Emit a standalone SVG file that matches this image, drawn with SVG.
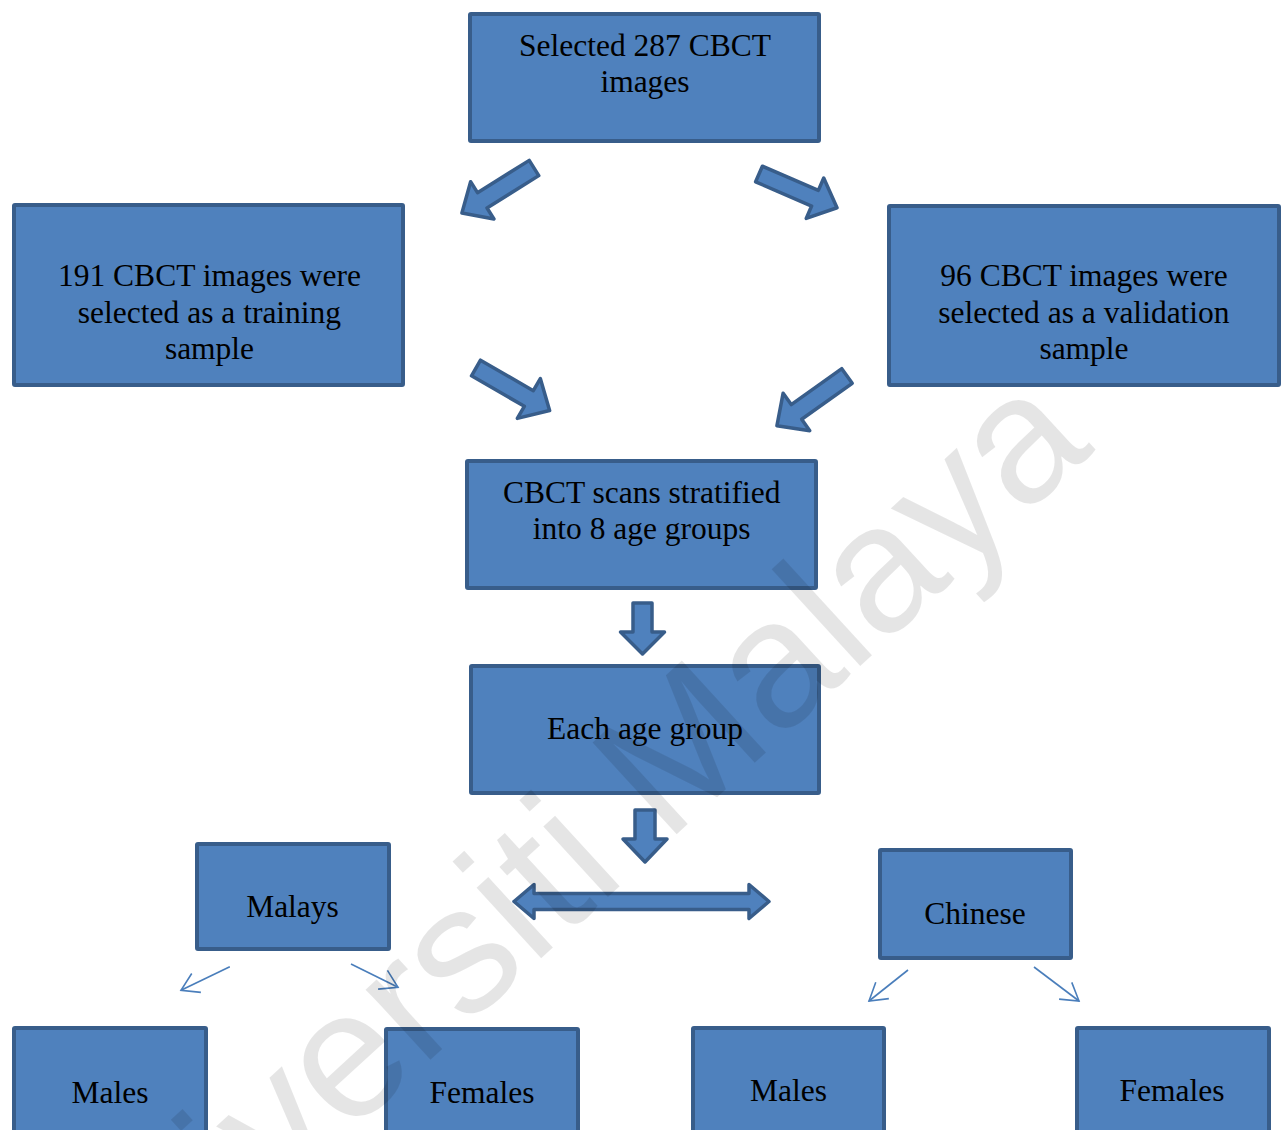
<svg xmlns="http://www.w3.org/2000/svg" width="1288" height="1130" viewBox="0 0 1288 1130">
  <style>
    .box { fill: #4f81bd; stroke: #385d8a; stroke-width: 4; }
    .lbl { font-family: "Liberation Serif", "Times New Roman", serif; font-size: 31.5px; fill: #000; text-anchor: middle; }
    .blk { fill: #4f81bd; stroke: #385d8a; stroke-width: 3.5; stroke-linejoin: round; }
    .thin { fill: none; stroke: #4a7ebb; stroke-width: 1.6; marker-end: url(#oa); }
    .wm { font-family: "Liberation Sans", Arial, sans-serif; font-size: 181px; fill: #000; fill-opacity: 0.1; }
  </style>
  <defs>
    <marker id="oa" markerUnits="userSpaceOnUse" markerWidth="20" markerHeight="26" viewBox="-1 -13 20 26" refX="17" refY="0" orient="auto" overflow="visible">
      <path d="M0,-10.5 L17,0 L0,10.5" fill="none" stroke="#4a7ebb" stroke-width="1.6"/>
    </marker>
  </defs>
  <rect width="1288" height="1130" fill="#fff"/>

  <g id="connectors">
    <polygon class="blk" transform="translate(534,168) rotate(148)" points="0,-9 61,-9 61,-22 85,0 61,22 61,9 0,9"/>
    <polygon class="blk" transform="translate(759,174) rotate(23.4)" points="0,-8.5 61,-8.5 61,-22 85,0 61,22 61,8.5 0,8.5"/>
    <polygon class="blk" transform="translate(476,368) rotate(30)" points="0,-9 61,-9 61,-23 85,0 61,23 61,9 0,9"/>
    <polygon class="blk" transform="translate(847,376) rotate(144.6)" points="0,-9 62,-9 62,-23 86,0 62,23 62,9 0,9"/>
    <polygon class="blk" transform="translate(642.5,603) rotate(90)" points="0,-9.5 29,-9.5 29,-22 51,0 29,22 29,9.5 0,9.5"/>
    <polygon class="blk" transform="translate(645,810) rotate(90)" points="0,-10 29,-10 29,-22 52,0 29,22 29,10 0,10"/>
    <polygon class="blk" points="514,901.5 534,884.5 534,893.5 749,893.5 749,884.5 769,901.5 749,918.5 749,909.5 534,909.5 534,918.5"/>
    <line class="thin" x1="229.8" y1="966.7" x2="181" y2="990.3"/>
    <line class="thin" x1="351" y1="964" x2="398" y2="987.3"/>
    <line class="thin" x1="908" y1="970" x2="869" y2="1001"/>
    <line class="thin" x1="1034" y1="967" x2="1079" y2="1001"/>
  </g>

  <g id="selected">
    <rect class="box" x="470" y="14" width="349" height="127" rx="1"/>
    <text class="lbl" x="645" y="55.7">Selected 287 CBCT</text>
    <text class="lbl" x="645" y="92">images</text>
  </g>
  <g id="training">
    <rect class="box" x="14" y="205" width="389" height="180" rx="1"/>
    <text class="lbl" x="209.5" y="285.7">191 CBCT images were</text>
    <text class="lbl" x="209.5" y="322.5">selected as a training</text>
    <text class="lbl" x="209.5" y="359">sample</text>
  </g>
  <g id="validation">
    <rect class="box" x="889" y="206" width="390" height="179" rx="1"/>
    <text class="lbl" x="1084" y="285.7">96 CBCT images were</text>
    <text class="lbl" x="1084" y="322.5">selected as a validation</text>
    <text class="lbl" x="1084" y="359">sample</text>
  </g>
  <g id="stratified">
    <rect class="box" x="467" y="461" width="349" height="127" rx="1"/>
    <text class="lbl" x="641.7" y="502.7">CBCT scans stratified</text>
    <text class="lbl" x="641.7" y="539.3">into 8 age groups</text>
  </g>
  <g id="each-age-group">
    <rect class="box" x="471" y="666" width="348" height="127" rx="1"/>
    <text class="lbl" x="645" y="739.3">Each age group</text>
  </g>
  <g id="malays">
    <rect class="box" x="197" y="844" width="192" height="105" rx="1"/>
    <text class="lbl" x="292.5" y="917">Malays</text>
  </g>
  <g id="chinese">
    <rect class="box" x="880" y="850" width="191" height="108" rx="1"/>
    <text class="lbl" x="975" y="924">Chinese</text>
  </g>
  <g id="malay-males">
    <rect class="box" x="14" y="1028" width="192" height="130" rx="1"/>
    <text class="lbl" x="110" y="1102.7">Males</text>
  </g>
  <g id="malay-females">
    <rect class="box" x="386" y="1029" width="192" height="130" rx="1"/>
    <text class="lbl" x="482" y="1102.7">Females</text>
  </g>
  <g id="chinese-males">
    <rect class="box" x="693" y="1028" width="191" height="130" rx="1"/>
    <text class="lbl" x="788.5" y="1101">Males</text>
  </g>
  <g id="chinese-females">
    <rect class="box" x="1077" y="1028" width="192" height="130" rx="1"/>
    <text class="lbl" x="1172" y="1101">Females</text>
  </g>

  <text class="wm" transform="translate(80,1381) rotate(-42.5)">Universiti Malaya</text>
</svg>
